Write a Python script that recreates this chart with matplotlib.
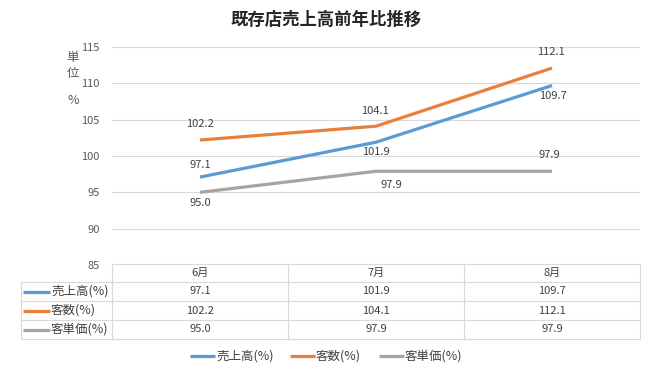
import matplotlib.pyplot as plt

plt.rcParams['font.family'] = ['Noto Sans CJK JP', 'DejaVu Sans']

months = ["6月", "7月", "8月"]
series_names = ["売上高(%)", "客数(%)", "客単価(%)"]
sales = [97.1, 101.9, 109.7]
customers = [102.2, 104.1, 112.1]
unit_price = [95.0, 97.9, 97.9]
colors = ["#5B9BD5", "#E8803A", "#A5A5A5"]
yticks = [85, 90, 95, 100, 105, 110, 115]

W, H = 650, 371
fig = plt.figure(figsize=(W / 100, H / 100), dpi=100)

# plot area in pixels
px_l, px_r, px_t, px_b = 112, 640, 47, 265
ax = fig.add_axes([px_l / W, 1 - px_b / H, (px_r - px_l) / W, (px_b - px_t) / H])

x = [0, 1, 2]
all_series = [sales, customers, unit_price]
for vals, c in zip(all_series, colors):
    ax.plot(x, vals, color=c, linewidth=2.3, solid_capstyle="butt")

# data label offsets in points (dx, dy), positive dy = above
offsets = [
    [(0, 8.6), (0, -7.2), (1, -7.2)],      # 売上高
    [(0, 11.5), (-1, 10.8), (-1, 11.5)],   # 客数
    [(0, -8), (11, -10), (-2, 11.5)],      # 客単価
]
for vals, offs in zip(all_series, offsets):
    for xi, v, o in zip(x, vals, offs):
        ax.annotate(f"{v:.1f}", (xi, v), xytext=o, textcoords="offset points",
                    ha="center", va="center", fontsize=8, color="#404040")

ax.set_xlim(-0.5, 2.5)
ax.set_ylim(85, 115)
ax.set_yticks(yticks)
ax.set_xticks([])
ax.tick_params(axis="y", length=0, labelsize=8, labelcolor="#595959", pad=9)
for s in ax.spines.values():
    s.set_visible(False)
ax.grid(axis="y", color="#D9D9D9", linewidth=0.8)
ax.set_axisbelow(True)

# title and unit label
fig.text(326 / W, 1 - 20 / H, "既存店売上高前年比推移", ha="center", va="center",
         fontsize=12.5, fontweight="bold", color="#262626")
for ch, yy in zip(["単", "位", "%"], [57, 74, 101]):
    fig.text(73 / W, 1 - yy / H, ch, ha="center", va="center", fontsize=9, color="#595959")

# data table below the chart
tab = fig.add_axes([0, 0, 1, 1])
tab.set_xlim(0, W)
tab.set_ylim(H, 0)
tab.axis("off")
tab.patch.set_alpha(0)

lc = "#D9D9D9"
col_edges = [112, 288, 464, 640]
row_edges = [264, 282, 301, 320, 339]
tab_left = 21
for xe in col_edges:
    tab.plot([xe, xe], [row_edges[0], row_edges[-1]], color=lc, linewidth=0.8)
tab.plot([tab_left, tab_left], [row_edges[1], row_edges[-1]], color=lc, linewidth=0.8)
tab.plot([col_edges[0], col_edges[-1]], [row_edges[0], row_edges[0]], color=lc, linewidth=0.8)
for ye in row_edges[1:]:
    tab.plot([tab_left, col_edges[-1]], [ye, ye], color=lc, linewidth=0.8)

centers = [(col_edges[i] + col_edges[i + 1]) / 2 for i in range(3)]
for cx, m in zip(centers, months):
    tab.text(cx, (row_edges[0] + row_edges[1]) / 2, m, ha="center", va="center",
             fontsize=8, color="#404040")
for r, (name, vals, c) in enumerate(zip(series_names, all_series, colors)):
    cy = (row_edges[r + 1] + row_edges[r + 2]) / 2
    tab.plot([23, 50], [cy, cy], color=c, linewidth=2.3, solid_capstyle="butt")
    tab.text(51, cy, name, ha="left", va="center", fontsize=9, color="#404040")
    for cx, v in zip(centers, vals):
        tab.text(cx, cy, f"{v:.1f}", ha="center", va="center", fontsize=8, color="#404040")

# legend
leg_x = [190, 290, 379]
leg_y = 356
for lx, name, c in zip(leg_x, series_names, colors):
    tab.plot([lx, lx + 25], [leg_y, leg_y], color=c, linewidth=2.3, solid_capstyle="butt")
    tab.text(lx + 26, leg_y, name, ha="left", va="center", fontsize=9, color="#404040")

fig.savefig("out.png", dpi=100)
